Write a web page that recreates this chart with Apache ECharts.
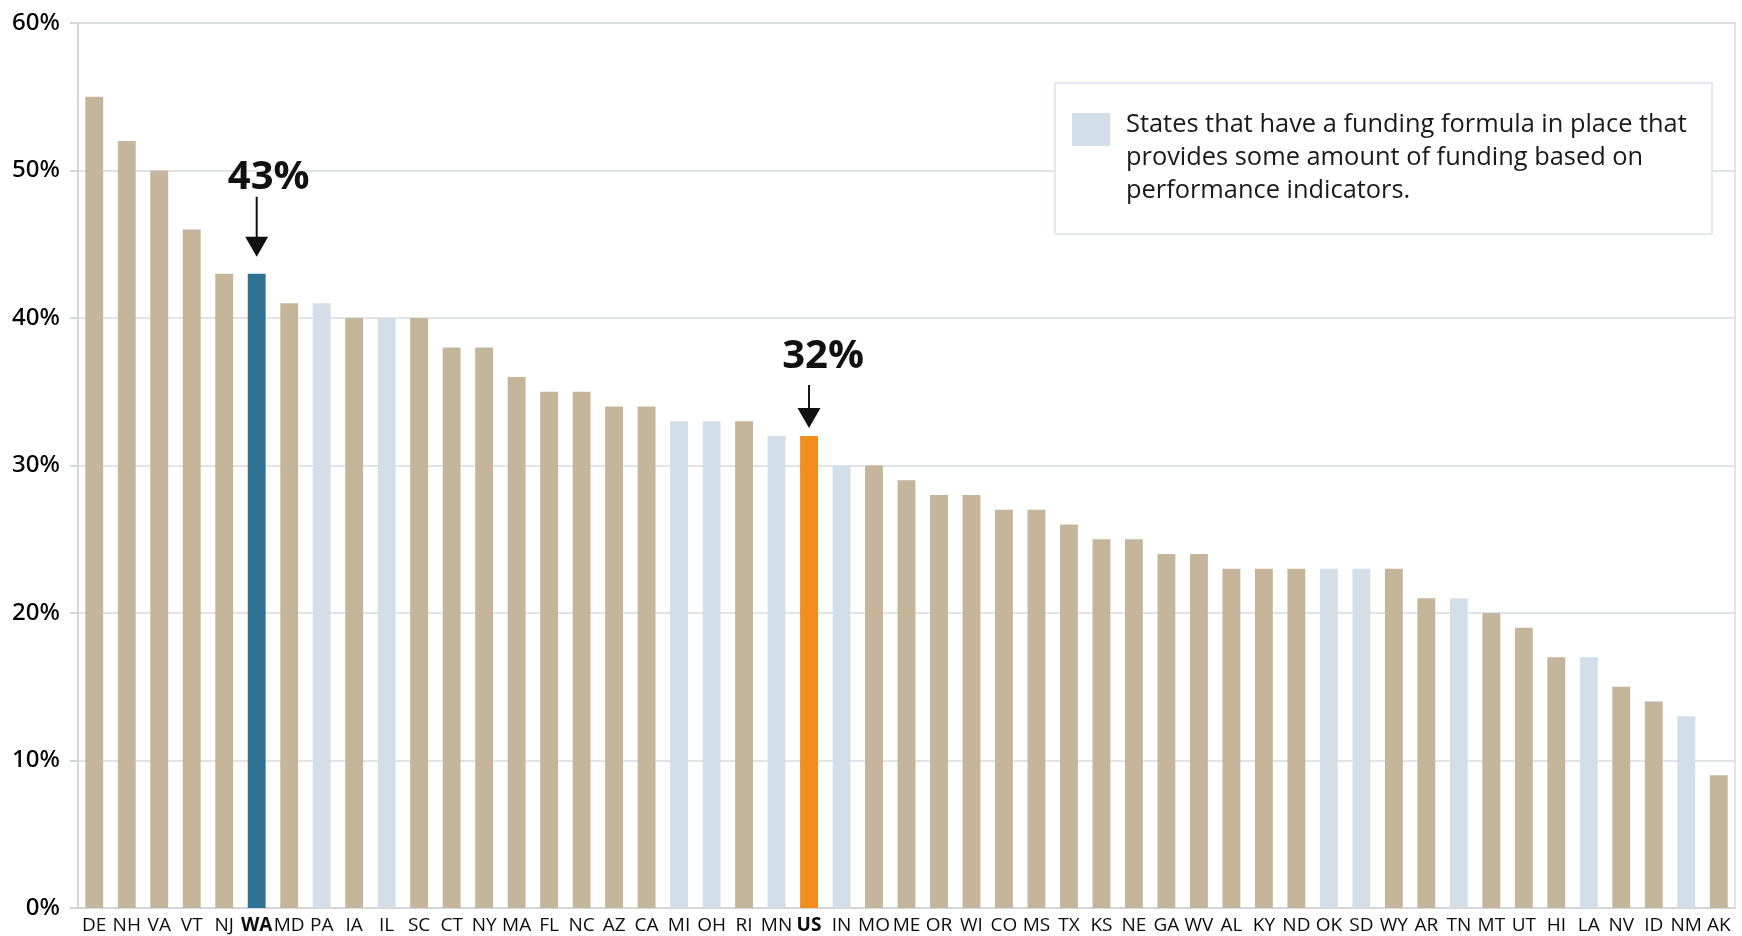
<!DOCTYPE html>
<html>
<head>
<meta charset="utf-8">
<script src="https://cdn.jsdelivr.net/npm/echarts@6/dist/echarts.min.js"></script>
<style>
html,body{margin:0;padding:0;background:#fff;}
#chart{width:1742px;height:936px;}
</style>
</head>
<body>
<div id="chart"></div>
<script>
const categories = ['DE','NH','VA','VT','NJ','WA','MD','PA','IA','IL','SC','CT','NY','MA','FL','NC','AZ','CA','MI','OH','RI','MN','US','IN','MO','ME','OR','WI','CO','MS','TX','KS','NE','GA','WV','AL','KY','ND','OK','SD','WY','AR','TN','MT','UT','HI','LA','NV','ID','NM','AK'];
const values = [55,52,50,46,43,43,41,41,40,40,40,38,38,36,35,35,34,34,33,33,33,32,32,30,30,29,28,28,27,27,26,25,25,24,24,23,23,23,23,23,23,21,21,20,19,17,17,15,14,13,9];
const formulaStates = ['PA','IL','MI','OH','MN','IN','OK','SD','TN','LA','NM'];
const boldCategories = ['WA','US'];
const annotatedCategories = ['WA','US'];
const yTickValues = [0,10,20,30,40,50,60];
const legendText = 'States that have a funding formula in place that\nprovides some amount of funding based on\nperformance indicators.';

const COLORS = { base:'#c4b59b', formula:'#d3dfe8', WA:'#307293', US:'#f38d1f' };
const annoStyle = {
  WA: { gap:17, lineTop:77, headH:20, headW:23, textAbove:96, dx:12 },
  US: { gap:8, lineTop:51, headH:20, headW:23, textAbove:79, dx:14 }
};

function colorFor(c){
  if (COLORS[c]) return COLORS[c];
  return formulaStates.includes(c) ? COLORS.formula : COLORS.base;
}

const chart = echarts.init(document.getElementById('chart'), null, {renderer:'canvas'});
const sans = "'Open Sans','Noto Sans',sans-serif";

const option = {
  backgroundColor:'#ffffff',
  animation:false,
  grid:{ left:78, right:7, top:23, bottom:28, containLabel:false, show:true, borderColor:'#d9dcdf', borderWidth:1.5 },
  xAxis:{
    type:'category',
    data:categories,
    axisLine:{ show:true, lineStyle:{ color:'#d3d6da', width:2 } },
    axisTick:{ show:false },
    axisLabel:{
      interval:0, margin:8, fontSize:19, fontFamily:sans, color:'#0d0d0d',
      formatter:(v)=> boldCategories.includes(v) ? '{b|'+v+'}' : v,
      rich:{ b:{ fontWeight:'bold', fontSize:19, fontFamily:sans, color:'#0d0d0d' } }
    }
  },
  yAxis:{
    type:'value',
    min:yTickValues[0], max:yTickValues[yTickValues.length-1], interval:10,
    axisLine:{ show:true, lineStyle:{ color:'#d3d6da', width:2 } },
    axisTick:{ show:true, length:8, lineStyle:{ color:'#d3d6da', width:2 } },
    splitLine:{ show:true, lineStyle:{ color:'#d9dcdf', width:1.5 } },
    axisLabel:{ margin:18, fontSize:24, fontWeight:500, fontFamily:"'Noto Sans',sans-serif", color:'#000', formatter:'{value}%' }
  },
  series:[
    {
      type:'bar',
      data:values.map((v,i)=>({ value:v, itemStyle:{ color:colorFor(categories[i]) } })),
      barWidth:'55%',
      z:2
    },
    {
      type:'custom',
      clip:false,
      z:5,
      data:annotatedCategories.map(c=>[categories.indexOf(c), values[categories.indexOf(c)]]),
      renderItem:function(params, api){
        const p = api.coord([api.value(0), api.value(1)]);
        const s = annoStyle[annotatedCategories[params.dataIndex]];
        const tipY = p[1]-s.gap;
        return {
          type:'group',
          children:[
            { type:'line', shape:{ x1:p[0], y1:p[1]-s.lineTop, x2:p[0], y2:tipY-s.headH+2 }, style:{ stroke:'#111', lineWidth:2 } },
            { type:'polygon', shape:{ points:[[p[0]-s.headW/2, tipY-s.headH],[p[0]+s.headW/2, tipY-s.headH],[p[0], tipY]] }, style:{ fill:'#111' } },
            { type:'text', style:{ text: api.value(1)+'%', x:p[0]+s.dx, y:p[1]-s.textAbove, align:'center', verticalAlign:'middle', font:"bold 40px 'Open Sans', sans-serif", fill:'#111' } }
          ]
        };
      }
    }
  ],
  graphic:[
    { type:'rect', z:100, shape:{ x:1055, y:83, width:657, height:151 }, style:{ fill:'#ffffff', stroke:'#e2e9f0', lineWidth:2 } },
    { type:'rect', z:101, shape:{ x:1072, y:113, width:38, height:33 }, style:{ fill:COLORS.formula } },
    { type:'text', z:101, x:1126, y:108, style:{ text:legendText, font:"25.4px 'Open Sans','Noto Sans',sans-serif", lineHeight:33, fill:'#1a1a1a', verticalAlign:'top' } }
  ]
};
chart.setOption(option);
</script>
</body>
</html>
